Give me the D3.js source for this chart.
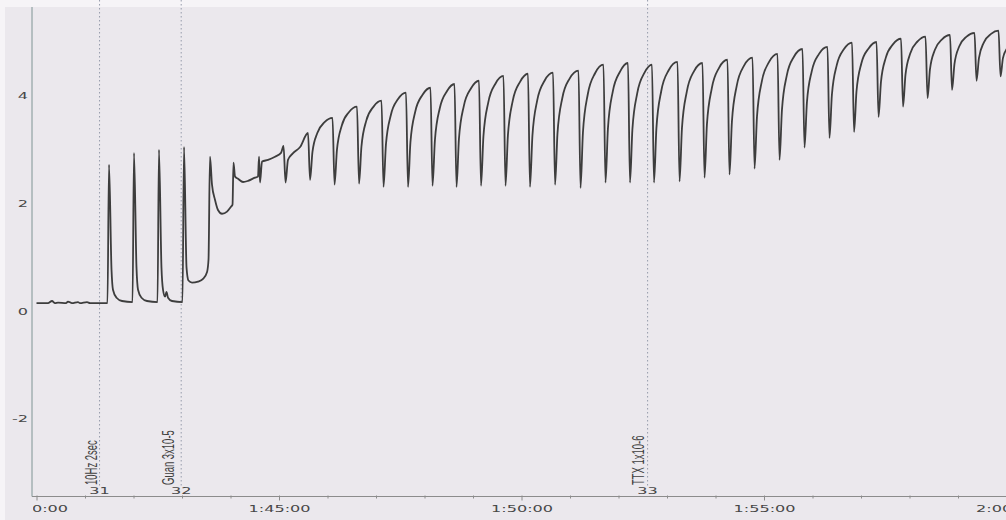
<!DOCTYPE html>
<html>
<head>
<meta charset="utf-8">
<script src="https://cdn.jsdelivr.net/npm/d3@7"></script>
<style>
  body { margin: 0; background: #fff; }
  svg { display: block; }
</style>
</head>
<body>
<div id="chart"></div>
<script>
// recording clock: every time below is seconds after 1:40:00
var startTime = new Date(2000, 0, 1, 1, 40, 0);

// baseline, the four 10Hz tetani and the guanethidine onset  [sec, value]
var phasicTrace = [
  [0, 0.15], [14.2, 0.15], [19.2, 0.19], [22.9, 0.15], [26.6, 0.16], [36.5, 0.15], [38.9, 0.18],
  [43.9, 0.15], [51.3, 0.17], [53.8, 0.15], [62.5, 0.17], [66.2, 0.15], [87.8, 0.15],
  [89.7, 2.72], [92.8, 0.77], [94.6, 0.40], [99.0, 0.25], [105.8, 0.19], [118.8, 0.17],
  [120.6, 2.94], [123.7, 0.81], [125.6, 0.40], [129.9, 0.25], [136.7, 0.19], [149.7, 0.17],
  [151.5, 3.00], [154.6, 0.81], [156.5, 0.40], [159.0, 0.27], [160.8, 0.36], [162.7, 0.25], [167.6, 0.19], [180.6, 0.17],
  [182.5, 3.05], [185.6, 0.81], [188.0, 0.57], [192.4, 0.53], [199.8, 0.55], [206.0, 0.60], [211.0, 0.73], [212.8, 0.96],
  [214.6, 2.87], [217.1, 2.35], [220.8, 2.07], [224.5, 1.88], [229.5, 1.81], [235.7, 1.85], [240.6, 1.94], [242.5, 1.98],
  [243.7, 2.76], [245.6, 2.50], [249.3, 2.46], [255.5, 2.40], [261.6, 2.42], [270.3, 2.48], [274.0, 2.50],
  [275.3, 2.87], [276.5, 2.39], [279.0, 2.78], [286.4, 2.81], [295.1, 2.87], [302.5, 2.94]
];

// rhythmic contractions: peak, fast drop to trough, slow recovery
var peakTimes = [305.6, 335.9, 366.2, 396.5, 426.8, 457.1, 487.4, 517.1, 547.4, 577.7,
  608.0, 639.0, 670.5, 701.4, 731.7, 761.4, 793.0, 823.9, 854.8, 885.8,
  916.7, 947.6, 978.5, 1008.9, 1039.2, 1069.5, 1099.8, 1130.1, 1160.4, 1190.1];
var peakValues = [3.07, 3.31, 3.59, 3.80, 3.91, 4.06, 4.15, 4.22, 4.28, 4.37,
  4.41, 4.43, 4.47, 4.58, 4.61, 4.58, 4.63, 4.61, 4.67, 4.71,
  4.78, 4.87, 4.91, 4.99, 5.00, 5.06, 5.10, 5.13, 5.17, 5.21];
var troughValues = [2.39, 2.44, 2.35, 2.37, 2.31, 2.31, 2.33, 2.31, 2.33, 2.33,
  2.31, 2.35, 2.29, 2.39, 2.39, 2.39, 2.41, 2.48, 2.54, 2.65,
  2.81, 3.04, 3.22, 3.33, 3.61, 3.80, 3.96, 4.11, 4.28, 4.36];
var dropSec = 2.5;
var riseOffsets = [3, 9, 18];
var riseValues = [
  [2.81, 2.93, 3.05], [2.96, 3.31, 3.51], [3.00, 3.45, 3.70], [3.06, 3.54, 3.80], [3.10, 3.64, 3.94],
  [3.14, 3.71, 4.02], [3.18, 3.77, 4.09], [3.20, 3.81, 4.14], [3.25, 3.88, 4.23], [3.27, 3.91, 4.26],
  [3.26, 3.92, 4.28], [3.30, 3.96, 4.32], [3.32, 4.03, 4.42], [3.39, 4.08, 4.45], [3.38, 4.05, 4.43],
  [3.40, 4.09, 4.47], [3.40, 4.08, 4.46], [3.47, 4.14, 4.52], [3.52, 4.19, 4.56], [3.61, 4.27, 4.63],
  [3.74, 4.38, 4.73], [3.88, 4.46, 4.78], [4.02, 4.57, 4.87], [4.08, 4.60, 4.88], [4.26, 4.71, 4.96],
  [4.39, 4.79, 5.01], [4.49, 4.85, 5.05], [4.59, 4.92, 5.10], [4.70, 4.99, 5.15], [4.70, 4.90]
];

var yTickValues = [-2, 0, 2, 4];

// comment markers
var eventTimes = [78, 179, 756];
var eventNumbers = ["31", "32", "33"];
var eventLabels = ["10Hz 2sec", "Guan 3x10-5", "TTX 1x10-6"];

var svgWidth = 1006;
var svgHeight = 520;
var axisY = 496.5;
var stretch = 1.75;   // printout is squeezed wide, text too
var textColor = "#474747";

function clock(s) { return new Date(startTime.getTime() + s * 1000); }

var svg = d3.select("#chart").append("svg")
  .attr("width", svgWidth)
  .attr("height", svgHeight);

// paper
svg.append("rect").attr("width", svgWidth).attr("height", svgHeight).attr("fill", "#f6f4f7");
svg.append("rect").attr("x", 5).attr("y", 7).attr("width", svgWidth - 5).attr("height", svgHeight - 7).attr("fill", "#ebe8ed");

var defs = svg.append("defs");
defs.append("clipPath").attr("id", "plotClip")
  .append("rect").attr("x", 32).attr("y", 0).attr("width", svgWidth - 32).attr("height", axisY);
defs.append("clipPath").attr("id", "axisClip")
  .append("rect").attr("x", 33).attr("y", -10).attr("width", svgWidth).attr("height", 40);

var xScale = d3.scaleTime()
  .domain([clock(-5.57), clock(1206.8)])
  .range([32, 1012]);

var yScale = d3.scaleLinear()
  .domain([-3.45, 5.78])
  .range([497, 0]);

// event markers (dotted)
var eventX = eventTimes.map(function(t) { return xScale(clock(t)); });
svg.selectAll(".eventLine")
  .data(eventX)
  .enter()
  .append("line")
  .attr("class", "eventLine")
  .attr("x1", d => d).attr("x2", d => d)
  .attr("y1", 0).attr("y2", 486)
  .attr("stroke", "#959bab")
  .attr("stroke-width", 1)
  .attr("stroke-dasharray", "1.5,2.5");

var labelNudge = [-3, -7.5, -4];
svg.selectAll(".eventLabel")
  .data(eventLabels)
  .enter()
  .append("text")
  .attr("class", "eventLabel")
  .attr("transform", (d, i) => `translate(${eventX[i] + labelNudge[i]}, 485) scale(${stretch},1) rotate(-90)`)
  .attr("font-family", "Liberation Sans, Arial, sans-serif")
  .attr("font-size", 9.5)
  .attr("fill", "#3f3f3f")
  .text(d => d);

svg.selectAll(".eventNum")
  .data(eventNumbers)
  .enter()
  .append("text")
  .attr("class", "eventNum")
  .attr("transform", (d, i) => `translate(${eventX[i]}, 494) scale(${stretch},1)`)
  .attr("text-anchor", "middle")
  .attr("font-family", "DejaVu Sans, Verdana, sans-serif")
  .attr("font-size", 9.2)
  .attr("fill", textColor)
  .text(d => d);

// axes
var fmt = d3.timeFormat("%-H:%M:%S");
var minuteTicks = d3.timeMinute.range(clock(0), clock(1201));
var xAxis = d3.axisBottom(xScale)
  .tickValues(minuteTicks)
  .tickSize(3)
  .tickFormat(d => d.getMinutes() % 5 === 0 ? fmt(d) : "");

var xg = svg.append("g")
  .attr("transform", `translate(0, ${axisY})`)
  .attr("clip-path", "url(#axisClip)")
  .call(xAxis);
xg.select(".domain").remove();
xg.selectAll(".tick line")
  .attr("stroke", "#8c8c8c")
  .attr("y1", -1)
  .attr("y2", d => d.getMinutes() % 5 === 0 ? 4 : 2);
xg.selectAll(".tick text")
  .attr("y", 16)
  .attr("dy", null)
  .attr("transform", `scale(${stretch},1)`)
  .attr("font-family", "DejaVu Sans, Verdana, sans-serif")
  .attr("font-size", 9.2)
  .attr("fill", textColor);

svg.append("line")
  .attr("x1", 32).attr("x2", svgWidth)
  .attr("y1", axisY).attr("y2", axisY)
  .attr("stroke", "#8c8c8c");

var yAxis = d3.axisLeft(yScale)
  .tickValues(yTickValues)
  .tickSize(0)
  .tickPadding(2.3)
  .tickFormat(d => String(d));
var yg = svg.append("g")
  .attr("transform", "translate(32, 0)")
  .call(yAxis);
yg.select(".domain").remove();
yg.selectAll(".tick text")
  .attr("transform", `scale(${stretch},1)`)
  .attr("font-family", "DejaVu Sans, Verdana, sans-serif")
  .attr("font-size", 9.2)
  .attr("fill", textColor);

svg.append("line")
  .attr("x1", 32).attr("x2", 32)
  .attr("y1", 7).attr("y2", axisY)
  .attr("stroke", "#7f9494");

// tension trace
var trace = phasicTrace.slice();
peakTimes.forEach(function(t, i) {
  trace.push([t, peakValues[i]]);
  var tt = t + dropSec;
  trace.push([tt, troughValues[i]]);
  riseValues[i].forEach(function(v, j) {
    trace.push([tt + riseOffsets[j], v]);
  });
});

var line = d3.line()
  .x(d => xScale(clock(d[0])))
  .y(d => yScale(d[1]))
  .curve(d3.curveMonotoneX);

svg.append("path")
  .datum(trace)
  .attr("clip-path", "url(#plotClip)")
  .attr("fill", "none")
  .attr("stroke", "#3d3d3d")
  .attr("stroke-width", 1.8)
  .attr("stroke-linejoin", "round")
  .attr("d", line);
</script>
</body>
</html>
